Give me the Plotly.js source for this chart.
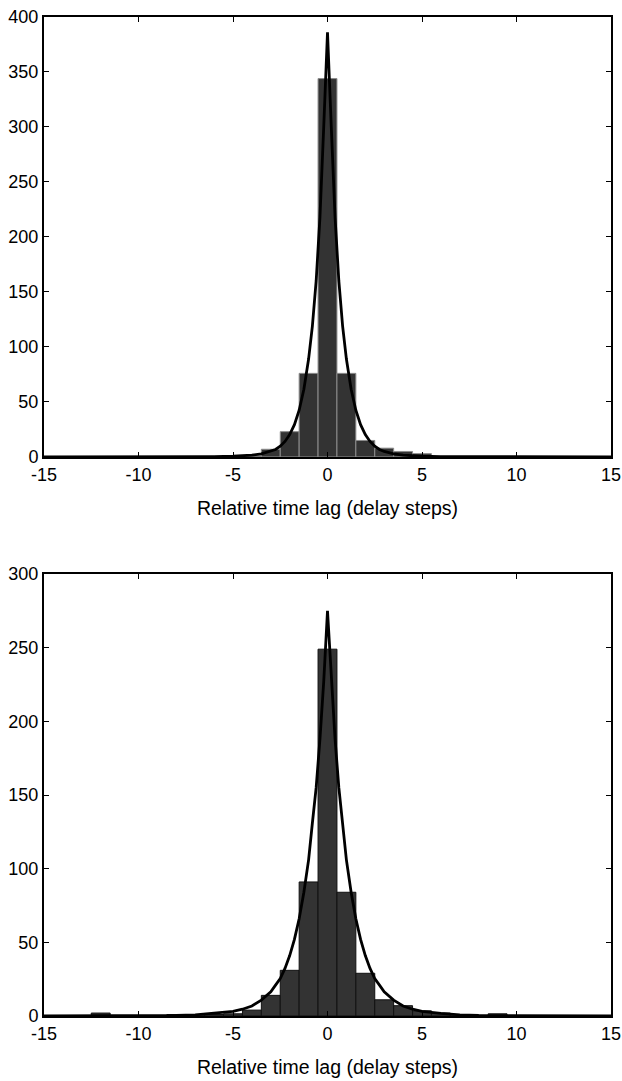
<!DOCTYPE html>
<html>
<head>
<meta charset="utf-8">
<script src="https://cdn.plot.ly/plotly-3.0.1.min.js"></script>
<style>html,body{margin:0;padding:0;background:#fff;}#chart{width:622px;height:1081px;}</style>
</head>
<body>
<div id="chart"></div>
<script>
// ---- Data ----
var binCenters = [-15,-14,-13,-12,-11,-10,-9,-8,-7,-6,-5,-4,-3,-2,-1,0,1,2,3,4,5,6,7,8,9,10,11,12,13,14,15];
var countsTop    = [0,0,0,0,0,0,0,0,0,0,0,1,7,23,76,344,76,15,8,5,3,0,0,0,0,0,0,0,0,0,0];
var countsBottom = [0,0,0,2,0,0,0,1,1,1,1.5,4,14,31,91,249,84,29,11,7,3.5,2,1,0,1.5,0,0,0,0,0,0];

var fitX = [-15,-12,-10,-8,-7,-6,-5,-4.5,-4,-3.5,-3,-2.75,-2.5,-2.25,-2,-1.75,-1.5,-1.25,-1,-0.8,-0.6,-0.4,-0.2,0,
            0.2,0.4,0.6,0.8,1,1.25,1.5,1.75,2,2.25,2.5,2.75,3,3.5,4,4.5,5,6,7,8,10,12,15];
var fitTop = [0,0,0.05,0.1,0.2,0.3,0.7,1.1,1.6,2.8,5,6.8,9.8,14.1,20.4,29.4,42.5,61.5,89,119,160,218,300,386,
              300,218,160,119,89,61.5,42.5,29.4,20.4,14.1,9.8,6.8,5,2.8,1.6,1.1,0.7,0.3,0.2,0.1,0.05,0,0];
var fitBottom = [0,0.05,0.15,0.4,0.8,1.8,3.2,4.6,6.8,10.8,16.5,21,25.4,32.3,41,52,66,84,106,131,155,188,227,275,
                 227,188,155,131,106,84,66,52,41,32.3,25.4,21,16.5,10.8,6.8,4.6,3.2,1.8,0.8,0.4,0.15,0.05,0];

var xTicks = [-15,-10,-5,0,5,10,15];
var yTicksTop = [0,50,100,150,200,250,300,350,400];
var yTicksBottom = [0,50,100,150,200,250,300];
var xLabel = 'Relative time lag (delay steps)';

// ---- Traces ----
var traces = [
  {type:'bar', x:binCenters, y:countsTop, xaxis:'x', yaxis:'y', width:1,
   marker:{color:'#333333', line:{color:'#8c8c8c', width:1}}, hoverinfo:'x+y'},
  {type:'scatter', mode:'lines', x:fitX, y:fitTop, xaxis:'x', yaxis:'y',
   line:{color:'#000000', width:2.8}},
  {type:'bar', x:binCenters, y:countsBottom, xaxis:'x2', yaxis:'y2', width:1,
   marker:{color:'#333333', line:{color:'#111111', width:1}}, hoverinfo:'x+y'},
  {type:'scatter', mode:'lines', x:fitX, y:fitBottom, xaxis:'x2', yaxis:'y2',
   line:{color:'#000000', width:2.8}}
];

var tickFont = {family:'Liberation Sans, Arial, sans-serif', size:18, color:'#000'};
var titleFont = {family:'Liberation Sans, Arial, sans-serif', size:19.5, color:'#000'};
function xa(anchor){
  return {anchor:anchor, range:[-15,15], tickvals:xTicks, ticktext:xTicks.map(String),
    ticks:'inside', ticklen:5, tickcolor:'#000', mirror:'ticks', showline:true, linecolor:'#000', linewidth:2,
    showgrid:false, zeroline:false, tickfont:tickFont,
    title:{text:xLabel, font:titleFont, standoff:18}};
}
function ya(anchor, domain, range, vals){
  return {anchor:anchor, domain:domain, range:range, tickvals:vals, ticktext:vals.map(String),
    ticks:'inside', ticklen:5, tickcolor:'#000', mirror:'ticks', showline:true, linecolor:'#000', linewidth:2,
    showgrid:false, zeroline:false, tickfont:tickFont};
}

var layout = {
  width:622, height:1081,
  margin:{l:44, r:11, t:17, b:65},
  paper_bgcolor:'#fff', plot_bgcolor:'#fff',
  showlegend:false, bargap:0,
  font:tickFont,
  xaxis: xa('y'),
  yaxis: ya('x', [0.5596,1], [0,400], yTicksTop),
  xaxis2: xa('y2'),
  yaxis2: ya('x2', [0,0.4424], [0,300], yTicksBottom)
};

Plotly.newPlot('chart', traces, layout, {displayModeBar:false, staticPlot:true});
</script>
</body>
</html>
